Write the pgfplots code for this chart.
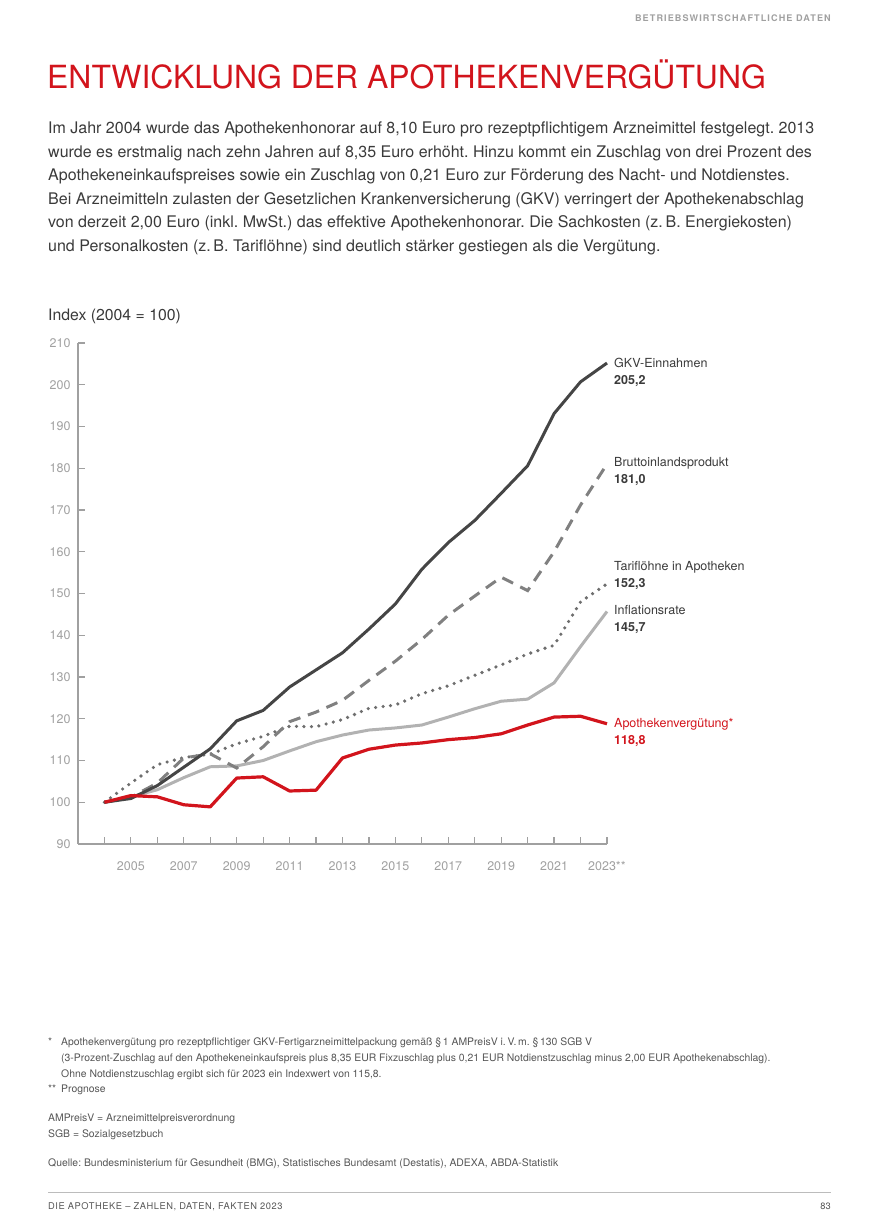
\documentclass[border=0pt]{standalone}
\usepackage{fontspec}
\setmainfont{TeX Gyre Heros}
\usepackage{pgfplots}
\pgfplotsset{compat=1.18}
\usepackage{pgfplotstable}
\definecolor{apored}{HTML}{D2141C}
\definecolor{gkv}{HTML}{454545}
\definecolor{bip}{HTML}{808080}
\definecolor{tarif}{HTML}{6E6E6E}
\definecolor{infl}{HTML}{B2B2B2}
\definecolor{axgray}{HTML}{A0A0A0}
\definecolor{txt}{HTML}{3A3A3A}
\definecolor{foot}{HTML}{555555}

\pgfplotstableread{
year gkv bip tarif infl apo
2004 100.0 100.0 100.0 100.0 100.0
2005 100.9 101.2 104.6 101.3 101.6
2006 104.0 104.6 109.0 103.0 101.3
2007 108.4 110.6 110.7 105.9 99.4
2008 112.8 111.6 111.5 108.5 98.9
2009 119.5 108.2 114.0 108.7 105.8
2010 122.0 113.3 115.8 110.0 106.1
2011 127.6 119.3 118.2 112.3 102.7
2012 131.7 121.6 118.1 114.5 102.9
2013 135.8 124.4 119.8 116.1 110.6
2014 141.5 129.2 122.5 117.3 112.7
2015 147.5 133.8 123.3 117.8 113.7
2016 155.8 139.0 126.0 118.5 114.2
2017 162.2 144.8 127.9 120.4 115.0
2018 167.5 149.4 130.4 122.4 115.5
2019 174.0 153.9 132.9 124.2 116.4
2020 180.6 150.7 135.5 124.7 118.5
2021 193.1 160.0 137.6 128.6 120.4
2022 200.7 171.2 148.0 137.3 120.6
2023 205.2 181.0 152.3 145.7 118.8
}\datatable

\begin{document}
\frenchspacing
\begin{tikzpicture}
\useasboundingbox (0,0) rectangle (880pt,-1218pt);
% header
\node[anchor=base east, inner sep=0, text=axgray, font=\fontsize{9.1}{10}\selectfont\bfseries\addfontfeature{LetterSpace=12}] at (831pt,-21pt) {BETRIEBSWIRTSCHAFTLICHE DATEN};
% title
\node[anchor=base west, inner sep=0, text=apored, font=\fontsize{31.9}{34}\selectfont] at (47pt,-88pt) {ENTWICKLUNG DER APOTHEKENVERGÜTUNG};
% paragraph
\begin{scope}[every node/.style={anchor=base west, inner sep=0, text=txt, font=\fontsize{16}{18}\selectfont}]
\node at (48pt,-133.5pt) {Im Jahr 2004 wurde das Apothekenhonorar auf 8,10 Euro pro rezeptpflichtigem Arzneimittel festgelegt. 2013};
\node at (48pt,-157pt) {wurde es erstmalig nach zehn Jahren auf 8,35 Euro erhöht. Hinzu kommt ein Zuschlag von drei Prozent des};
\node at (48pt,-180.5pt) {Apothekeneinkaufspreises sowie ein Zuschlag von 0,21 Euro zur Förderung des Nacht- und Notdienstes.};
\node at (48pt,-204pt) {Bei Arzneimitteln zulasten der Gesetzlichen Krankenversicherung (GKV) verringert der Apothekenabschlag};
\node at (48pt,-227.5pt) {von derzeit 2,00 Euro (inkl. MwSt.) das effektive Apothekenhonorar. Die Sachkosten (z.\,B. Energiekosten)};
\node at (48pt,-251pt) {und Personalkosten (z.\,B. Tariflöhne) sind deutlich stärker gestiegen als die Vergütung.};
\end{scope}
% axis title
\node[anchor=base west, inner sep=0, text=txt, font=\fontsize{15.8}{17}\selectfont] at (48pt,-320.5pt) {Index (2004 = 100)};

\begin{axis}[
  at={(78pt,-844pt)}, anchor=south west,
  scale only axis, width=529pt, height=501pt,
  xmin=2003, xmax=2023, ymin=90, ymax=210,
  axis lines=left,
  axis line style={axgray, line width=1.6pt, -},
  every tick/.style={axgray, line width=1.2pt},
  tick align=inside, major tick length=7pt,
  xtick={2004,...,2023},
  xticklabels={,2005,,2007,,2009,,2011,,2013,,2015,,2017,,2019,,2021,,2023**},
  ytick={90,100,...,210},
  tick label style={text=axgray, font=\fontsize{12.5}{14}\selectfont},
  /pgf/number format/assume math mode=true,
  yticklabel style={xshift=-4pt},
  xticklabel style={yshift=-14pt},
  clip=false,
]
\addplot[infl, line width=3pt, line join=round] table[x=year,y=infl]{\datatable};
\addplot[tarif, line width=3.6pt, line cap=round, dash pattern=on 0pt off 7.5pt] table[x=year,y=tarif]{\datatable};
\addplot[bip, line width=3pt, dash pattern=on 12pt off 8pt] table[x=year,y=bip]{\datatable};
\addplot[gkv, line width=3pt, line join=round] table[x=year,y=gkv]{\datatable};
\addplot[apored, line width=3.2pt, line join=round] table[x=year,y=apo]{\datatable};

\begin{scope}[every node/.style={anchor=base west, inner sep=0, font=\fontsize{12.5}{14}\selectfont, xshift=7pt}]
\node[text=txt, yshift=-4.5pt] at (axis cs:2023,205.2) {GKV-Einnahmen};
\node[text=txt, yshift=-21.5pt, font=\fontsize{12.5}{14}\selectfont\bfseries] at (axis cs:2023,205.2) {205,2};
\node[text=txt, yshift=-2pt] at (axis cs:2023,181.0) {Bruttoinlandsprodukt};
\node[text=txt, yshift=-19pt, font=\fontsize{12.5}{14}\selectfont\bfseries] at (axis cs:2023,181.0) {181,0};
\node[text=txt, yshift=13pt] at (axis cs:2023,152.3) {Tariflöhne in Apotheken};
\node[text=txt, yshift=-4pt, font=\fontsize{12.5}{14}\selectfont\bfseries] at (axis cs:2023,152.3) {152,3};
\node[text=txt, yshift=-3pt] at (axis cs:2023,145.7) {Inflationsrate};
\node[text=txt, yshift=-20pt, font=\fontsize{12.5}{14}\selectfont\bfseries] at (axis cs:2023,145.7) {145,7};
\node[text=apored, yshift=-4pt] at (axis cs:2023,118.8) {Apothekenvergütung*};
\node[text=apored, yshift=-21pt, font=\fontsize{12.5}{14}\selectfont\bfseries] at (axis cs:2023,118.8) {118,8};
\end{scope}
\end{axis}

% footnotes
\begin{scope}[every node/.style={anchor=base west, inner sep=0, text=foot, font=\fontsize{10.4}{12}\selectfont}]
\node at (48pt,-1045.5pt) {*};
\node at (61pt,-1045.5pt) {Apothekenvergütung pro rezeptpflichtiger GKV-Fertigarzneimittelpackung gemäß §\,1 AMPreisV i.\,V.\,m. §\,130 SGB V};
\node at (61pt,-1061pt) {(3-Prozent-Zuschlag auf den Apothekeneinkaufspreis plus 8,35 EUR Fixzuschlag plus 0,21 EUR Notdienstzuschlag minus 2,00 EUR Apothekenabschlag).};
\node at (61pt,-1077pt) {Ohne Notdienstzuschlag ergibt sich für 2023 ein Indexwert von 115,8.};
\node at (48pt,-1092.5pt) {**};
\node at (61pt,-1092.5pt) {Prognose};
\node at (48pt,-1121.5pt) {AMPreisV = Arzneimittelpreisverordnung};
\node at (48pt,-1137.5pt) {SGB = Sozialgesetzbuch};
\node at (48pt,-1166.5pt) {Quelle: Bundesministerium für Gesundheit (BMG), Statistisches Bundesamt (Destatis), ADEXA, ABDA-Statistik};
\end{scope}
% footer
\draw[axgray!70, line width=0.8pt] (48pt,-1192pt) -- (831pt,-1192pt);
\node[anchor=base west, inner sep=0, text=foot, font=\fontsize{9.3}{11}\selectfont\addfontfeature{LetterSpace=6}] at (48pt,-1209pt) {DIE APOTHEKE – ZAHLEN, DATEN, FAKTEN 2023};
\node[anchor=base east, inner sep=0, text=foot, font=\fontsize{9.3}{11}\selectfont] at (831pt,-1209pt) {83};
\end{tikzpicture}
\end{document}
